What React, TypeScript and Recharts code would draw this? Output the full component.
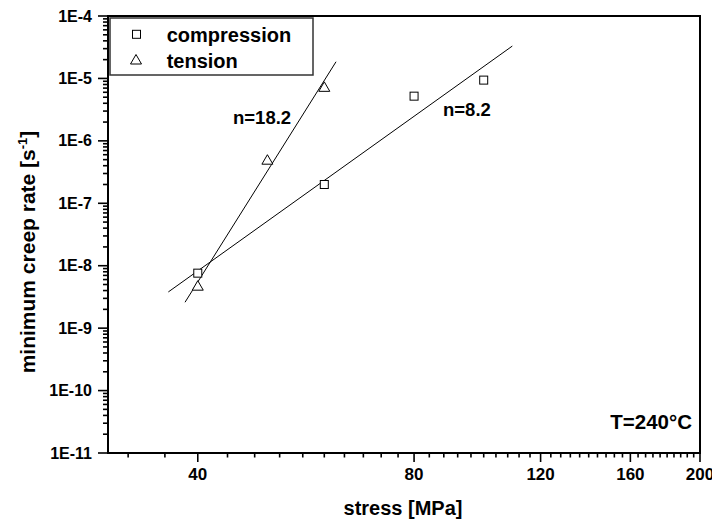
import React from 'react';
import { ScatterChart, Scatter, XAxis, YAxis, Customized } from 'recharts';

// ---- data ----
const compressionStress = [40, 60, 80, 100];
const compressionRate = [7.6e-9, 2.0e-7, 5.2e-6, 9.4e-6];
const tensionStress = [40, 50, 60];
const tensionRate = [4.7e-9, 4.9e-7, 7.2e-6];

// power-law fit lines (end points)
const compressionFitStress = [36.4, 109.6];
const compressionFitRate = [3.8e-9, 3.3e-5];
const tensionFitStress = [38.4, 62.3];
const tensionFitRate = [2.6e-9, 1.85e-5];

// ---- axes ----
const xDomain = [30, 200];
const xMajorTicks = [40, 80, 120, 160, 200];
const xTickLabels = ['40', '80', '120', '160', '200'];
const yDomain = [1e-11, 1e-4];
const yMajorTicks = [1e-11, 1e-10, 1e-9, 1e-8, 1e-7, 1e-6, 1e-5, 1e-4];
const yTickLabels = ['1E-11', '1E-10', '1E-9', '1E-8', '1E-7', '1E-6', '1E-5', '1E-4'];

const seriesNames = ['compression', 'tension'];
const annotations = ['n=18.2', 'n=8.2', 'T=240°C'];
const xTitle = 'stress [MPa]';

const xMinorTicks: number[] = [];
for (let v = 32; v < 200; v += 4) if (v % 40 !== 0) xMinorTicks.push(v);
const yMinorTicks: number[] = [];
for (let e = -11; e < -4; e++) for (let k = 2; k <= 9; k++) yMinorTicks.push(Number((k * Math.pow(10, e)).toPrecision(3)));

const zip = (xs: number[], ys: number[]) => xs.map((x, i) => ({ x, y: ys[i] }));
const compressionData = zip(compressionStress, compressionRate);
const tensionData = zip(tensionStress, tensionRate);
const compressionFit = zip(compressionFitStress, compressionFitRate);
const tensionFit = zip(tensionFitStress, tensionFitRate);

const FONT = '"Liberation Sans", Arial, Helvetica, sans-serif';

const W = 712;
const H = 521;
const PL = 100, PT = 8, PR = 692, PB = 445;

const Square = (props: any) => {
  const { cx, cy } = props;
  if (cx == null || cy == null) return <g />;
  return <rect x={cx - 4} y={cy - 4} width={8} height={8} fill="#fff" stroke="#000" strokeWidth={1} />;
};

const Triangle = (props: any) => {
  const { cx, cy } = props;
  if (cx == null || cy == null) return <g />;
  return (
    <polygon
      points={`${cx},${cy - 5.5} ${cx - 5.5},${cy + 4} ${cx + 5.5},${cy + 4}`}
      fill="#fff"
      stroke="#000"
      strokeWidth={1}
    />
  );
};

const NoShape = () => <g />;

const XTick = (props: any) => {
  const { x, y, payload } = props;
  const v = payload.value;
  const idx = xMajorTicks.indexOf(v);
  const major = idx >= 0;
  return (
    <g>
      <line x1={x} x2={x} y1={y} y2={y + (major ? 9 : 4.5)} stroke="#000" strokeWidth={1.6} />
      {major && (
        <text x={x} y={y + 27} textAnchor="middle" fontFamily={FONT} fontWeight="bold" fontSize={17} fill="#000">
          {xTickLabels[idx]}
        </text>
      )}
    </g>
  );
};

const YTick = (props: any) => {
  const { x, y, payload } = props;
  const v = payload.value;
  const idx = yMajorTicks.findIndex((m) => Math.abs(Math.log10(m) - Math.log10(v)) < 1e-6);
  const major = idx >= 0;
  return (
    <g>
      <line x1={x - (major ? 10 : 5)} x2={x} y1={y} y2={y} stroke="#000" strokeWidth={1.6} />
      {major && (
        <text x={x - 16} y={y + 5.5} textAnchor="end" fontFamily={FONT} fontWeight="bold" fontSize={16} fill="#000">
          {yTickLabels[idx]}
        </text>
      )}
    </g>
  );
};

const Overlay = () => (
  <g fontFamily={FONT} fontWeight="bold" fill="#000">
    <rect x={PL} y={PT} width={PR - PL} height={PB - PT} fill="none" stroke="#000" strokeWidth={2} />
    {/* legend */}
    <rect x={102} y={10} width={203} height={57} fill="#fff" stroke="#333" strokeWidth={1.5} />
    <Square cx={128.5} cy={26.3} />
    <Triangle cx={128} cy={52} />
    <text x={158.7} y={33.7} fontSize={20}>{seriesNames[0]}</text>
    <text x={158.7} y={59.7} fontSize={20}>{seriesNames[1]}</text>
    {/* annotations */}
    <text x={225} y={116} fontSize={18.5}>{annotations[0]}</text>
    <text x={435} y={108} fontSize={18.5}>{annotations[1]}</text>
    <text x={684} y={421} fontSize={20.5} textAnchor="end">{annotations[2]}</text>
    {/* axis titles */}
    <text x={395} y={507} fontSize={20} textAnchor="middle">{xTitle}</text>
    <text x={27} y={244} fontSize={21} textAnchor="middle" transform="rotate(-90 27 244)">
      minimum creep rate [s<tspan dy={-8} fontSize={13}>-1</tspan><tspan dy={8}>]</tspan>
    </text>
  </g>
);

export default function App() {
  return (
    <ScatterChart width={W} height={H} margin={{ top: 8, right: 20, bottom: 0, left: 0 }}>
      <XAxis
        type="number"
        dataKey="x"
        scale="log"
        domain={xDomain}
        ticks={[...xMajorTicks, ...xMinorTicks].sort((a, b) => a - b)}
        interval={0}
        height={76}
        tickSize={0}
        tickMargin={0}
        tickLine={false}
        tick={<XTick />}
        axisLine={{ stroke: '#000', strokeWidth: 2 }}
        allowDataOverflow
      />
      <YAxis
        type="number"
        dataKey="y"
        scale="log"
        domain={yDomain}
        ticks={[...yMajorTicks, ...yMinorTicks].sort((a, b) => a - b)}
        interval={0}
        width={100}
        tickSize={0}
        tickMargin={0}
        tickLine={false}
        tick={<YTick />}
        axisLine={{ stroke: '#000', strokeWidth: 2 }}
        allowDataOverflow
      />
      <Scatter data={compressionFit} line={{ stroke: '#000', strokeWidth: 1 }} shape={<NoShape />} isAnimationActive={false} />
      <Scatter data={tensionFit} line={{ stroke: '#000', strokeWidth: 1 }} shape={<NoShape />} isAnimationActive={false} />
      <Scatter name={seriesNames[0]} data={compressionData} shape={<Square />} isAnimationActive={false} />
      <Scatter name={seriesNames[1]} data={tensionData} shape={<Triangle />} isAnimationActive={false} />
      <Customized component={<Overlay />} />
    </ScatterChart>
  );
}
